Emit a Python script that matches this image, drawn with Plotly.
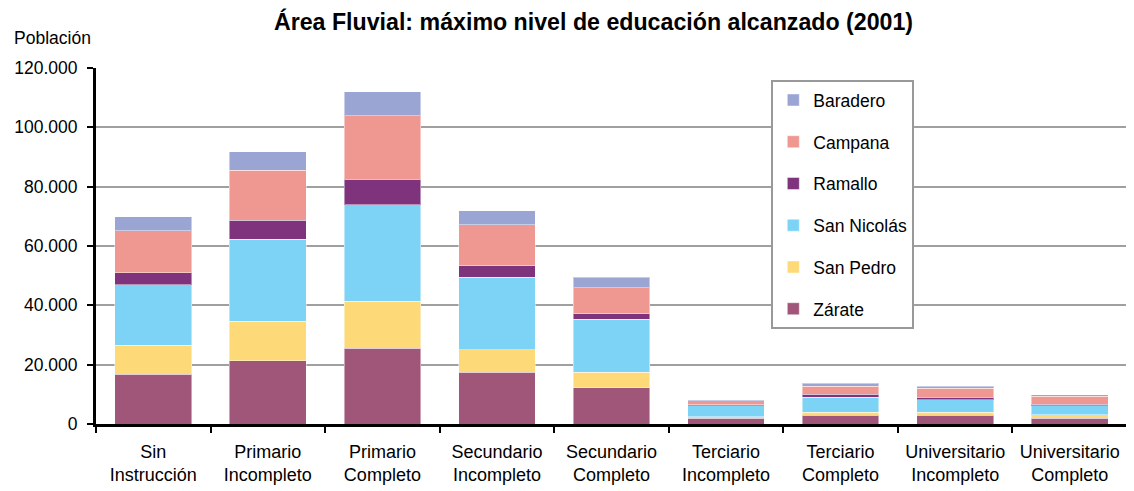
import plotly.graph_objects as go

categories = ["Sin<br>Instrucción", "Primario<br>Incompleto", "Primario<br>Completo",
              "Secundario<br>Incompleto", "Secundario<br>Completo", "Terciario<br>Incompleto",
              "Terciario<br>Completo", "Universitario<br>Incompleto", "Universitario<br>Completo"]

zarate      = [16800, 21400, 25500, 17400, 12300, 1900, 3000, 3000, 1900]
san_pedro   = [9800, 13300, 15800, 7700, 5100, 600, 1000, 1000, 1200]
san_nicolas = [20300, 27500, 32600, 24400, 17900, 3600, 5100, 4100, 3100]
ramallo     = [4100, 6500, 8600, 3900, 1900, 400, 1000, 900, 400]
campana     = [14200, 16800, 21400, 13800, 8700, 1300, 2600, 3100, 2700]
baradero    = [4600, 6200, 8100, 4700, 3600, 400, 1000, 700, 600]

series = [
    ("Zárate", zarate, "#A05679"),
    ("San Pedro", san_pedro, "#FDD978"),
    ("San Nicolás", san_nicolas, "#7DD3F5"),
    ("Ramallo", ramallo, "#7E337C"),
    ("Campana", campana, "#EF9791"),
    ("Baradero", baradero, "#9BA5D4"),
]

FONT = "Liberation Sans, Arial, sans-serif"

fig = go.Figure()
n = len(series)
for i, (name, vals, col) in enumerate(series):
    fig.add_trace(go.Bar(
        x=categories, y=vals, name=name, legendgroup=name, legendrank=n - i,
        marker=dict(color=col, line=dict(color="rgba(255,255,255,0.45)", width=1)),
    ))

fig.update_layout(
    width=1126, height=483,
    barmode="stack", bargap=0.33,
    paper_bgcolor="white", plot_bgcolor="white",
    margin=dict(l=88, r=7, t=60, b=67),
    separators=",.",
    font=dict(family=FONT, size=17, color="black"),
    title=dict(text="<b>Área Fluvial: máximo nivel de educación alcanzado (2001)</b>",
               x=0.52, xanchor="center", y=0.971, yanchor="middle",
               font=dict(family=FONT, size=23.2, color="black")),
    legend=dict(
        x=0.655, xanchor="left", y=0.966, yanchor="top",
        traceorder="grouped", tracegroupgap=16,
        bordercolor="#999999", borderwidth=2, bgcolor="white",
        font=dict(family=FONT, size=17.5, color="black"),
        itemwidth=30,
    ),
    showlegend=True,
)

fig.update_xaxes(
    type="category", showline=True, linecolor="black", linewidth=3,
    ticks="outside", tickson="boundaries", ticklen=6, tickwidth=2, tickcolor="black",
    showgrid=False, tickfont=dict(family=FONT, size=18), ticklabelstandoff=9,
)
fig.update_yaxes(
    range=[0, 120000], dtick=20000, tickformat=",d",
    showline=True, linecolor="black", linewidth=3,
    ticks="outside", ticklen=6, tickwidth=2, tickcolor="black",
    showgrid=True, gridcolor="#A0A0A0", gridwidth=2, zeroline=False,
    tickfont=dict(family=FONT, size=17.5), ticklabelstandoff=6,
)

fig.add_annotation(text="Población", xref="paper", yref="paper", x=-0.0815, y=1.084,
                   xanchor="left", yanchor="middle", showarrow=False,
                   font=dict(family=FONT, size=17.5, color="black"))
fig.add_shape(type="line", xref="paper", yref="paper", x0=1, x1=1, y0=0, y1=1,
              line=dict(color="#C8C8C8", width=1.5))

fig.write_html("out.html")
